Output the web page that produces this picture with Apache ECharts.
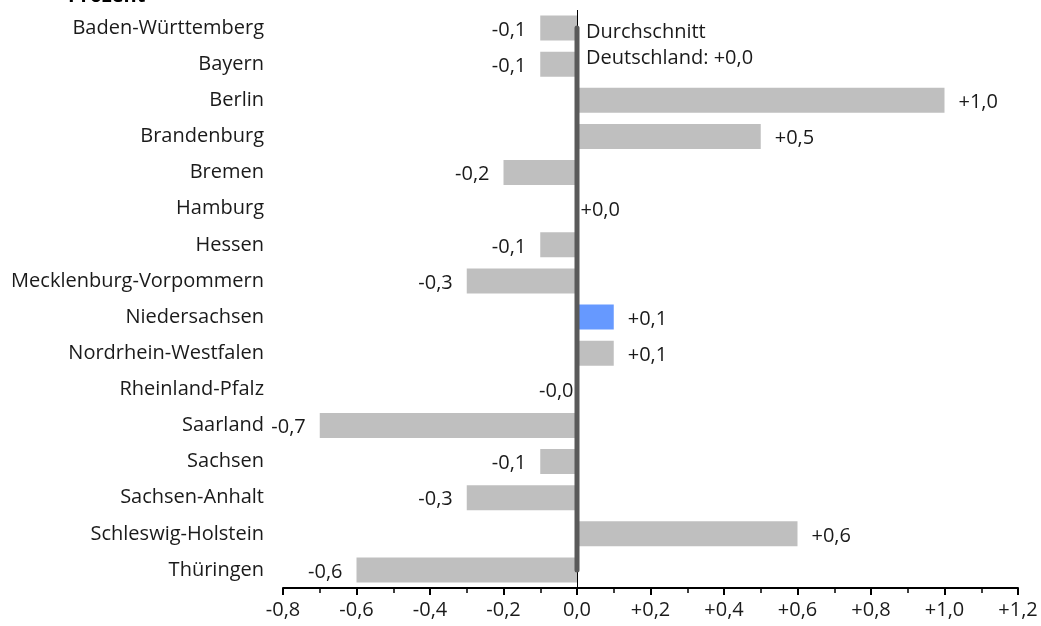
<!DOCTYPE html>
<html>
<head>
<meta charset="utf-8">
<script src="https://cdn.jsdelivr.net/npm/echarts@6/dist/echarts.min.js"></script>
<style>html,body{margin:0;padding:0;background:#fff;}#c{width:1041px;height:626px;}</style>
</head>
<body>
<div id="c"></div>
<script>
const categories = ['Baden-Württemberg','Bayern','Berlin','Brandenburg','Bremen','Hamburg','Hessen','Mecklenburg-Vorpommern','Niedersachsen','Nordrhein-Westfalen','Rheinland-Pfalz','Saarland','Sachsen','Sachsen-Anhalt','Schleswig-Holstein','Thüringen'];
const values = [-0.1,-0.1,1.0,0.5,-0.2,0.004,-0.1,-0.3,0.1,0.1,-0.004,-0.7,-0.1,-0.3,0.6,-0.6];
const highlighted = 'Niedersachsen';
const xTicks = {min:-0.8, max:1.2, step:0.2};
const unitLabel = 'Prozent';
const averageLabel = ['Durchschnitt', 'Deutschland: +0,0'];

const FONT = 'Open Sans';
const FS = 20;
const TXT = '#1a1a1a';
function fmt(v){
  const s = v < 0 ? '-' : '+';
  return s + Math.abs(v).toFixed(1).replace('.', ',');
}
function fmtAxis(v){
  const r = Math.round(v*10)/10;
  if (Math.abs(r) < 1e-9) return '0,0';
  return fmt(r);
}
const barData = values.map((v,i)=>({
  value: v,
  itemStyle: {color: categories[i] === highlighted ? '#6699ff' : '#bfbfbf'},
  label: {
    show: true,
    position: v >= 0 ? 'right' : 'left',
    distance: Math.abs(v) < 0.05 ? 2 : 14,
    offset: [0, 2],
    formatter: fmt(v),
    color: TXT, fontFamily: FONT, fontSize: FS
  }
}));

const chart = echarts.init(document.getElementById('c'));
chart.setOption({
  animation: false,
  backgroundColor: '#fff',
  grid: {left: 283, right: 23, top: 10, bottom: 38, containLabel: false},
  xAxis: {
    type: 'value', min: xTicks.min, max: xTicks.max, interval: xTicks.step,
    position: 'bottom',
    axisLine: {show: true, onZero: false, lineStyle: {color: '#000', width: 2}},
    axisTick: {show: true, length: 7, lineStyle: {color: '#000', width: 2}},
    minorTick: {show: true, splitNumber: 2, length: 5, lineStyle: {color: '#000', width: 1.5}},
    splitLine: {show: false},
    axisLabel: {formatter: fmtAxis, color: TXT, fontFamily: FONT, fontSize: FS, margin: 12}
  },
  yAxis: {
    type: 'category', data: categories, inverse: true,
    axisLine: {show: false}, axisTick: {show: false},
    axisLabel: {color: TXT, fontFamily: FONT, fontSize: FS, margin: 19}
  },
  graphic: [
    {type: 'text', left: 68, top: -14, style: {text: unitLabel, font: 'bold 20px "' + FONT + '"', fill: '#000'}},
    {type: 'text', left: 586, top: 19, style: {text: averageLabel.join('\n'), font: FS + 'px "' + FONT + '"', lineHeight: 26, fill: TXT}}
  ],
  series: [
    {
      type: 'bar', data: barData, barWidth: 25,
      markLine: {
        silent: true, symbol: 'none', label: {show: false},
        lineStyle: {color: '#000', width: 1, type: 'solid'},
        data: [{xAxis: 0}]
      }
    },
    {
      type: 'line', symbol: 'none', silent: true, z: 5,
      data: [[0, categories[0]], [0, categories[categories.length-1]]],
      lineStyle: {color: '#5a5a5a', width: 5, cap: 'round'}
    }
  ]
});
</script>
</body>
</html>
